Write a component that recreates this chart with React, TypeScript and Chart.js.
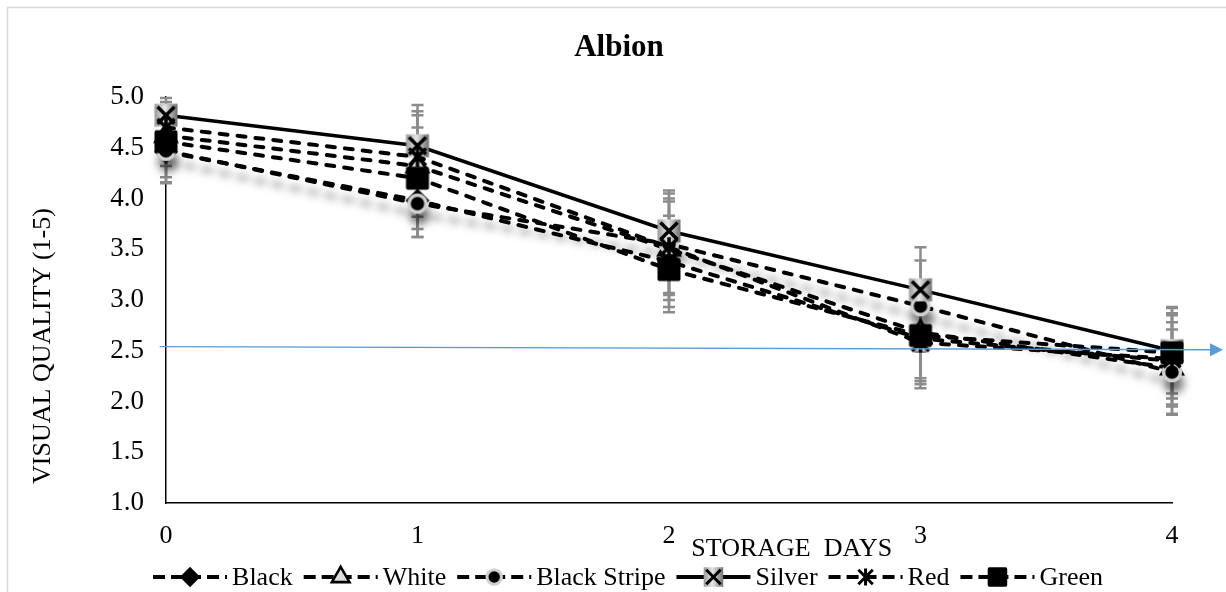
import React, { useEffect, useRef } from 'react';
import { Chart, registerables } from 'chart.js';

Chart.register(...registerables);

// ---------- data ----------
const days = [0, 1, 2, 3, 4];
const xTickLabels = ['0', '1', '2', '3', '4'];
const seriesNames = ['Black', 'White', 'Black Stripe', 'Silver', 'Red', 'Green'];

const blackValues = [4.46, 3.98, 3.38, 2.62, 2.4];
const whiteValues = [4.62, 4.32, 3.5, 2.68, 2.33];
const blackStripeValues = [4.47, 3.95, 3.55, 2.94, 2.29];
const silverValues = [4.82, 4.52, 3.68, 3.1, 2.5];
const redValues = [4.7, 4.41, 3.52, 2.58, 2.42];
const greenValues = [4.56, 4.2, 3.3, 2.65, 2.48];

const blackErr = [0.3, 0.36, 0.45, 0.45, 0.45];
const whiteErr = [0.3, 0.5, 0.5, 0.45, 0.45];
const blackStripeErr = [0.32, 0.33, 0.5, 0.45, 0.42];
const silverErr = [0.17, 0.4, 0.4, 0.42, 0.42];
const redErr = [0.25, 0.45, 0.45, 0.45, 0.45];
const greenErr = [0.35, 0.5, 0.42, 0.45, 0.45];

const thresholdStart = 2.54;
const thresholdEnd = 2.51;

const chartTitle = 'Albion';
const xTitle = 'STORAGE  DAYS';
const yTitle = 'VISUAL QUALITY (1-5)';

// ---------- styling ----------
const FONT = "'Liberation Serif', 'Times New Roman', Times, serif";
type Kind = 'diamond' | 'triangle' | 'circle' | 'silver' | 'star' | 'square';
const kinds: Kind[] = ['diamond', 'triangle', 'circle', 'silver', 'star', 'square'];
const dashedFlags = [true, true, true, false, true, true];
const drawOrder = [6, 5, 4, 3, 2, 1];

function drawMarker(ctx: CanvasRenderingContext2D, kind: Kind, cx: number, cy: number, s: number) {
  ctx.save();
  ctx.setLineDash([]);
  if (kind === 'diamond') {
    const r = 12 * s;
    ctx.beginPath();
    ctx.moveTo(cx, cy - r);
    ctx.lineTo(cx + r, cy);
    ctx.lineTo(cx, cy + r);
    ctx.lineTo(cx - r, cy);
    ctx.closePath();
    ctx.fillStyle = '#000';
    ctx.fill();
  } else if (kind === 'triangle') {
    const r = 12 * s;
    ctx.beginPath();
    ctx.moveTo(cx, cy - r);
    ctx.lineTo(cx + r * 0.866, cy + r * 0.5);
    ctx.lineTo(cx - r * 0.866, cy + r * 0.5);
    ctx.closePath();
    ctx.fillStyle = '#dcdcdc';
    ctx.fill();
    ctx.lineWidth = 3 * s;
    ctx.strokeStyle = '#000';
    ctx.stroke();
  } else if (kind === 'circle') {
    ctx.beginPath();
    ctx.arc(cx, cy, 8.5 * s, 0, Math.PI * 2);
    ctx.fillStyle = '#000';
    ctx.fill();
    ctx.lineWidth = 3.5 * s;
    ctx.strokeStyle = '#d0d0d0';
    ctx.stroke();
  } else if (kind === 'silver') {
    const h = 11.5 * s;
    const g = ctx.createLinearGradient(cx - h, cy, cx + h, cy);
    g.addColorStop(0, '#9a9a9a');
    g.addColorStop(0.45, '#e6e6e6');
    g.addColorStop(1, '#6f6f6f');
    ctx.fillStyle = g;
    ctx.fillRect(cx - h, cy - h, 2 * h, 2 * h);
    const i = 3 * s;
    ctx.beginPath();
    ctx.moveTo(cx - h + i, cy - h + i);
    ctx.lineTo(cx + h - i, cy + h - i);
    ctx.moveTo(cx + h - i, cy - h + i);
    ctx.lineTo(cx - h + i, cy + h - i);
    ctx.lineWidth = 3.5 * s;
    ctx.strokeStyle = '#000';
    ctx.stroke();
  } else if (kind === 'star') {
    const r = 10 * s;
    const d = 8.5 * s;
    ctx.beginPath();
    ctx.moveTo(cx, cy - r);
    ctx.lineTo(cx, cy + r);
    ctx.moveTo(cx - d, cy - d);
    ctx.lineTo(cx + d, cy + d);
    ctx.moveTo(cx + d, cy - d);
    ctx.lineTo(cx - d, cy + d);
    ctx.lineWidth = 3.5 * s;
    ctx.strokeStyle = '#000';
    ctx.stroke();
  } else if (kind === 'square') {
    const h = 11.5 * s;
    ctx.beginPath();
    (ctx as any).roundRect(cx - h, cy - h, 2 * h, 2 * h, 2 * s);
    ctx.fillStyle = '#000';
    ctx.fill();
  }
  ctx.restore();
}

function markerCanvas(kind: Kind, s: number): HTMLCanvasElement {
  const size = Math.ceil(34 * s);
  const c = document.createElement('canvas');
  c.width = size;
  c.height = size;
  const ctx = c.getContext('2d')!;
  drawMarker(ctx, kind, size / 2, size / 2, s);
  return c;
}

const allValues = [blackValues, whiteValues, blackStripeValues, silverValues, redValues, greenValues];
const allErrors = [blackErr, whiteErr, blackStripeErr, silverErr, redErr, greenErr];
const SHADOW_INDEX = 2;

const decorPlugin = {
  id: 'decor',
  beforeDatasetsDraw(chart: any) {
    const { ctx, scales } = chart;
    const xs = scales.x;
    const ys = scales.y;
    ctx.save();
    ctx.strokeStyle = '#8c8c8c';
    ctx.lineWidth = 2.5;
    allValues.forEach((vals, si) => {
      vals.forEach((v, j) => {
        const e = allErrors[si][j];
        const x = xs.getPixelForValue(days[j]);
        const yt = ys.getPixelForValue(v + e);
        const yb = ys.getPixelForValue(v - e);
        ctx.beginPath();
        ctx.moveTo(x, yt);
        ctx.lineTo(x, yb);
        ctx.moveTo(x - 6, yt);
        ctx.lineTo(x + 6, yt);
        ctx.moveTo(x - 6, yb);
        ctx.lineTo(x + 6, yb);
        ctx.stroke();
      });
    });
    ctx.restore();
  },
  beforeDatasetDraw(chart: any, args: any) {
    if (args.index === SHADOW_INDEX) {
      const ctx = chart.ctx;
      ctx.save();
      ctx.shadowColor = 'rgba(0,0,0,0.5)';
      ctx.shadowBlur = 9;
      ctx.shadowOffsetX = 2;
      ctx.shadowOffsetY = 11;
    }
  },
  afterDatasetDraw(chart: any, args: any) {
    if (args.index === SHADOW_INDEX) {
      chart.ctx.restore();
    }
  },
  afterDatasetsDraw(chart: any) {
    const { ctx, scales, width } = chart;
    const xs = scales.x;
    const ys = scales.y;
    const x0 = xs.getPixelForValue(-0.025);
    const y0 = ys.getPixelForValue(thresholdStart);
    const x1 = width - 14;
    const y1 = ys.getPixelForValue(thresholdEnd);
    ctx.save();
    ctx.strokeStyle = '#5b9bd5';
    ctx.fillStyle = '#5b9bd5';
    ctx.lineWidth = 1.3;
    ctx.beginPath();
    ctx.moveTo(x0, y0);
    ctx.lineTo(x1, y1);
    ctx.stroke();
    ctx.beginPath();
    ctx.moveTo(x1 - 2, y1 - 6.5);
    ctx.lineTo(width - 3, y1);
    ctx.lineTo(x1 - 2, y1 + 6.5);
    ctx.closePath();
    ctx.fill();
    ctx.restore();
  },
  afterDraw(chart: any) {
    const { ctx, chartArea, width, height } = chart;
    ctx.save();
    // frame
    ctx.strokeStyle = '#d9d9d9';
    ctx.lineWidth = 1.5;
    ctx.beginPath();
    ctx.moveTo(7.5, height);
    ctx.lineTo(7.5, 7.5);
    ctx.lineTo(width, 7.5);
    ctx.stroke();

    ctx.fillStyle = '#000';
    ctx.textAlign = 'center';
    ctx.textBaseline = 'middle';
    // title
    ctx.font = `bold 31px ${FONT}`;
    ctx.fillText(chartTitle, 619, 48);
    // x title
    ctx.font = `26px ${FONT}`;
    const xw = chartArea.right - chartArea.left;
    ctx.fillText(xTitle, chartArea.left + xw * 0.622, 549);
    // y title
    ctx.save();
    ctx.translate(43, 346);
    ctx.rotate(-Math.PI / 2);
    ctx.fillText(yTitle, 0, 0);
    ctx.restore();

    // legend
    ctx.font = `26px ${FONT}`;
    ctx.textAlign = 'left';
    const symW = 74;
    const gapSym = 5;
    const gapItem = 11;
    let total = 0;
    const widths = seriesNames.map((n) => ctx.measureText(n).width);
    widths.forEach((w, i) => {
      total += symW + gapSym + w + (i < widths.length - 1 ? gapItem : 0);
    });
    let x = 628 - total / 2;
    const ly = 577;
    seriesNames.forEach((name, i) => {
      ctx.save();
      ctx.strokeStyle = '#000';
      ctx.lineWidth = 4;
      if (dashedFlags[i]) {
        ctx.setLineDash([12, 6]);
        ctx.lineCap = 'butt';
      }
      ctx.beginPath();
      ctx.moveTo(x, ly);
      ctx.lineTo(x + symW, ly);
      ctx.stroke();
      ctx.restore();
      drawMarker(ctx, kinds[i], x + symW / 2, ly, 0.85);
      ctx.fillStyle = '#000';
      ctx.fillText(name, x + symW + gapSym, ly + 1);
      x += symW + gapSym + widths[i] + gapItem;
    });
    ctx.restore();
  },
};

export default function App() {
  const ref = useRef<HTMLCanvasElement>(null);

  useEffect(() => {
    document.body.style.margin = '0';
    const canvas = ref.current;
    if (!canvas) return;

    const datasets = seriesNames.map((name, i) => ({
      label: name,
      data: days.map((d, j) => ({ x: d, y: allValues[i][j] })),
      borderColor: '#000',
      backgroundColor: '#000',
      borderWidth: dashedFlags[i] ? 4 : 3.5,
      borderDash: dashedFlags[i] ? [8, 10] : [],
      borderCapStyle: dashedFlags[i] ? 'round' : 'butt',
      pointStyle: markerCanvas(kinds[i], 1),
      pointRadius: 12,
      tension: 0,
      clip: false,
      order: drawOrder[i],
      fill: false,
    }));

    const chart = new Chart(canvas, {
      type: 'line',
      data: { datasets: datasets as any },
      plugins: [decorPlugin],
      options: {
        animation: false,
        responsive: false,
        devicePixelRatio: 1,
        layout: { padding: { top: 97, right: 54, bottom: 0, left: 0 } },
        plugins: {
          legend: { display: false },
          title: { display: false },
          tooltip: { enabled: false },
        },
        scales: {
          x: {
            type: 'linear',
            min: 0,
            max: 4,
            grid: { display: false, drawTicks: false },
            border: { display: true, color: '#000', width: 1.5 },
            ticks: {
              stepSize: 1,
              padding: 18,
              color: '#000',
              font: { family: FONT, size: 26 },
              callback: (v: any) => xTickLabels[Number(v)] ?? '',
            },
            afterFit: (s: any) => {
              s.height = 89;
            },
          },
          y: {
            min: 1,
            max: 5,
            grid: { display: false, drawTicks: false },
            border: { display: true, color: '#000', width: 1.5 },
            ticks: {
              stepSize: 0.5,
              padding: 22,
              color: '#000',
              font: { family: FONT, size: 27 },
              callback: (v: any) => Number(v).toFixed(1),
            },
            afterFit: (s: any) => {
              s.width = 166;
            },
          },
        },
      } as any,
    });
    return () => chart.destroy();
  }, []);

  return (
    <div style={{ width: 1226, height: 592, position: 'relative' }}>
      <canvas ref={ref} width={1226} height={592} style={{ display: 'block', width: 1226, height: 592 }} />
    </div>
  );
}
